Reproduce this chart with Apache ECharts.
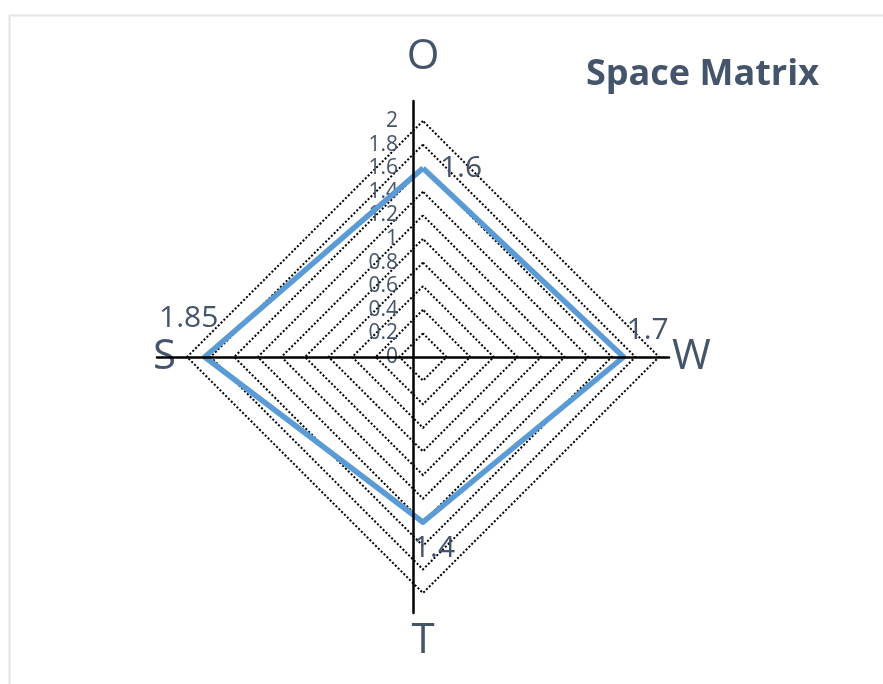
<!DOCTYPE html>
<html>
<head>
<meta charset="utf-8">
<script src="https://cdn.jsdelivr.net/npm/echarts@6/dist/echarts.min.js"></script>
<style>
html,body{margin:0;padding:0;background:#fff;}
#main{width:883px;height:684px;}
</style>
</head>
<body>
<div id="main"></div>
<script>
// 指标 (逆时针: 上, 左, 下, 右) 与得分
var names = ['O', 'S', 'T', 'W'];
var scores = [1.6, 1.85, 1.4, 1.7];
var maxScore = 2;
var steps = 10;

// 数据标签相对顶点的偏移, 顺序同上
var labelOffsets = [[38, 0], [-16, -39], [11, 26], [24, -27]];
// 轴名称的额外留白 [上,右,下,左]
var namePads = { O: [0, 0, 32, 0], S: [0, 0, 0, 0], T: [16, 0, 0, 0], W: [0, 0, 0, 2] };

var textColor = '#44546a';
var font = 'Open Sans';

var myChar = echarts.init(document.getElementById('main'));

var indicators = names.map(function (n, i) {
	var it = { name: n, min: 0, max: maxScore };
	if (i === 0) {
		it.axisLabel = {
			show: true,
			fontSize: 21,
			fontFamily: font,
			color: textColor,
			margin: 25,
			showMinLabel: true
		};
	}
	return it;
});

var nameRich = {};
names.forEach(function (n) {
	nameRich[n] = {
		fontSize: 42,
		fontFamily: font,
		color: textColor,
		padding: namePads[n]
	};
});

// 每个顶点单独一条(透明)数据, 只显示自己的标签
var labelItems = scores.map(function (v, i) {
	return {
		value: scores,
		symbol: 'circle',
		symbolSize: 1,
		itemStyle: { color: 'rgba(0,0,0,0)' },
		lineStyle: { width: 0, opacity: 0 },
		label: {
			show: true,
			position: 'inside',
			offset: labelOffsets[i],
			color: textColor,
			fontSize: 30,
			fontFamily: font,
			textBorderWidth: 0,
			formatter: function (p) {
				return p.value === v ? String(v) : '';
			}
		}
	};
});

var option = {
	backgroundColor: '#fff',
	animation: false,
	title: {
		text: 'Space Matrix',
		left: 586,
		top: 57,
		padding: 0,
		textStyle: {
			fontSize: 36,
			fontWeight: 'bold',
			fontFamily: font,
			color: textColor
		}
	},
	graphic: [{
		type: 'rect',
		left: 7,
		top: 13,
		shape: { width: 900, height: 700 },
		style: { fill: 'none', stroke: '#e1e5ea', lineWidth: 2 },
		silent: true
	}],
	radar: [{
		center: [423, 357],
		radius: 236,
		startAngle: 90,
		shape: 'polygon',
		splitNumber: steps,
		indicator: indicators,
		nameGap: 11,
		axisName: {
			formatter: function (name) {
				return '{' + name + '|' + name + '}';
			},
			rich: nameRich
		},
		axisLine: { show: false },
		axisTick: { show: false },
		axisLabel: { show: false },
		splitArea: { show: false },
		splitLine: {
			lineStyle: { color: '#000', type: 'dotted', width: 2 }
		}
	}, {
		// 十字坐标线
		center: [413, 357],
		radius: 256,
		z: 5,
		startAngle: 90,
		splitNumber: 1,
		indicator: names.map(function (n) { return { name: n, max: 1 }; }),
		axisName: { show: false },
		axisLine: { lineStyle: { color: '#000', width: 2.5 } },
		axisTick: { show: false },
		axisLabel: { show: false },
		splitLine: { show: false },
		splitArea: { show: false }
	}],
	series: [{
		type: 'radar',
		radarIndex: 0,
		silent: true,
		data: [{
			value: scores,
			symbol: 'none',
			lineStyle: { color: '#5b9bd5', width: 5.5 }
		}].concat(labelItems)
	}]
};
myChar.setOption(option);
</script>
</body>
</html>
